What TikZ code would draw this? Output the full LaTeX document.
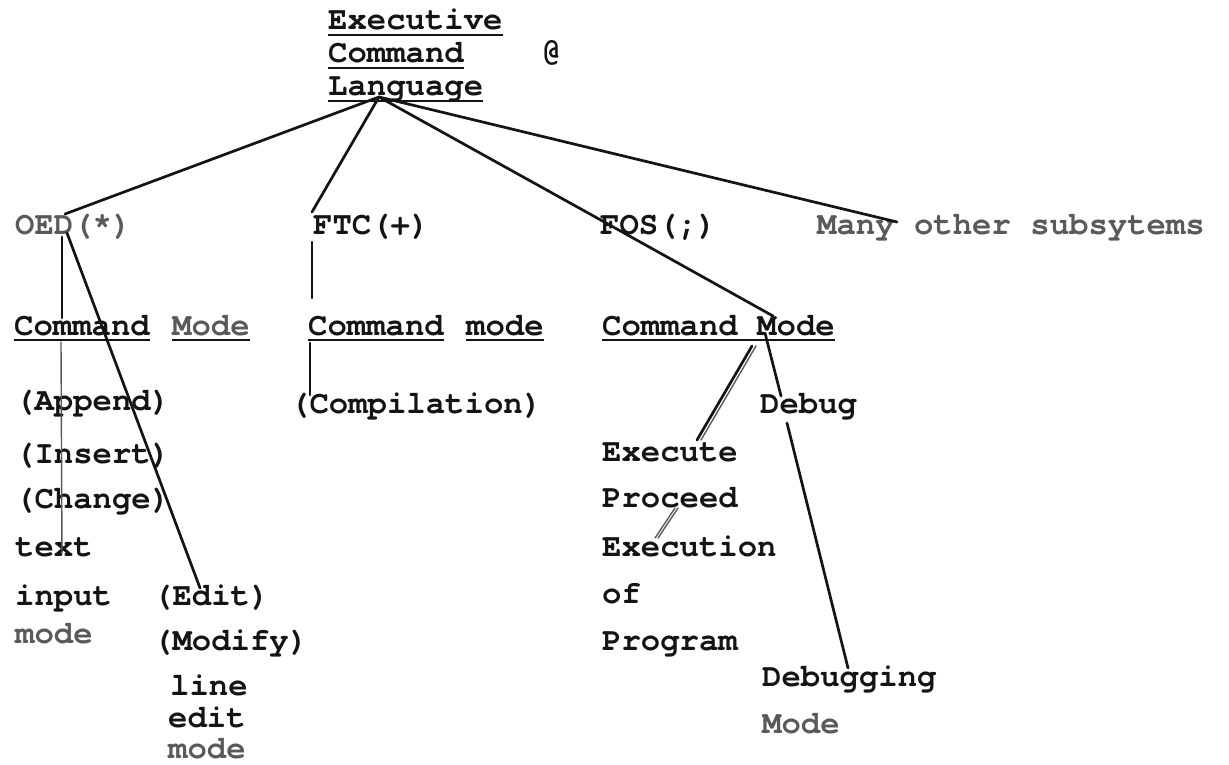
\documentclass[tikz,border=0pt]{standalone}
\usepackage{fontspec}
\newfontfamily\tw{TeX Gyre Cursor}
\definecolor{ink}{HTML}{141414}
\definecolor{fade}{HTML}{5A5A5A}
\begin{document}
\begin{tikzpicture}[x=1pt,y=-1pt,
  lbl/.style={anchor=base west, inner sep=0pt,
    font=\tw\bfseries\fontsize{32.3}{34}\selectfont, text=ink},
  faint/.style={lbl, text=fade},
  link/.style={draw=ink, line width=2.7pt, line cap=round},
  weak link/.style={draw=ink!70, line width=1.4pt, line cap=round},
  uline/.style={draw=ink, line width=2.8pt}]
\newcommand\underlinenode[1]{\draw[uline] ([yshift=-5pt]#1.base west) -- ([yshift=-5pt]#1.base east);}

\fill[white] (0,0) rectangle (1229,765);
\useasboundingbox (0,0) rectangle (1229,765);

% root
\node[lbl] (exe)  at (328,30) {Executive};
\node[lbl] (cmd)  at (328,63) {Command};
\node[lbl] (lang) at (328,96) {Language};
\node[lbl] (at)   at (542,61) {@};
\underlinenode{exe}
\underlinenode{cmd}
\underlinenode{lang}

% subsystems
\node[faint] (oed)  at (15,234)  {OED(*)};
\node[lbl]   (ftc)  at (313,234) {FTC(+)};
\node[lbl]   (fos)  at (600,234) {FOS(;)};
\node[faint] (many) at (817,234) {Many other subsytems};

% command modes
\node[lbl]   (cmA)  at (14,335)  {Command};
\node[faint] (cmAm) at (172,335) {Mode};
\node[lbl]   (cmB)  at (308,335) {Command};
\node[lbl]   (cmBm) at (466,335) {mode};
\node[lbl]   (cmC)  at (602,335) {Command Mode};
\underlinenode{cmA}
\underlinenode{cmAm}
\underlinenode{cmB}
\underlinenode{cmBm}
\underlinenode{cmC}

% OED branch
\node[lbl]   (app)  at (15,410)  {(Append)};
\node[lbl]   (ins)  at (15,463)  {(Insert)};
\node[lbl]   (chg)  at (15,508)  {(Change)};
\node[lbl]   (txt)  at (15,556)  {text};
\node[lbl]   (inp)  at (15,605)  {input};
\node[faint] (tmode) at (15,643) {mode};
\node[lbl]   (edt)  at (153,605) {(Edit)};
\node[lbl]   (mdf)  at (153,650) {(Modify)};
\node[lbl]   (lin)  at (170,695) {line};
\node[lbl]   (led)  at (168,727) {edit};
\node[faint] (lmode) at (168,758) {mode};

% FTC branch
\node[lbl]   (cmp)  at (290,413) {(Compilation)};

% FOS branch
\node[lbl]   (dbg)  at (760,413) {Debug};
\node[lbl]   (exc)  at (602,461) {Execute};
\node[lbl]   (prc)  at (602,507) {Proceed};
\node[lbl]   (exn)  at (602,556) {Execution};
\node[lbl]   (of)   at (602,603) {of};
\node[lbl]   (prg)  at (602,650) {Program};
\node[lbl]   (dbgg) at (762,686) {Debugging};
\node[faint] (dmode) at (762,733) {Mode};

% connector ends
\coordinate (hub)      at (379,97);
\coordinate (oed-top)  at (65,214);
\coordinate (oed-foot) at (62,237);
\coordinate (oed-knee) at (67,233);
\coordinate (ftc-top)  at (312,212);
\coordinate (ftc-foot) at (312,242);
\coordinate (fos-top)  at (600,219.6);
\coordinate (many-end) at (897,222);
\coordinate (cmA-top)  at (62,318);
\coordinate (cmA-foot) at (61,342);
\coordinate (txt-mid)  at (62,553);
\coordinate (edt-top)  at (200,588);
\coordinate (cmB-top)  at (312,298);
\coordinate (cmB-foot) at (310,343);
\coordinate (cmp-top)  at (310,395);
\coordinate (cmC-top)  at (773,316);
\coordinate (cmC-foot) at (752,346);
\coordinate (cmC-m)    at (765,333);
\coordinate (exc-top)  at (697,440);
\coordinate (dbg-top)  at (781,396);
\coordinate (dbg-foot) at (787,423);
\coordinate (dbgg-top) at (848,668);
\coordinate (prc-foot) at (675,508);
\coordinate (exn-top)  at (655,538);

% top level links
\draw[link] (hub) -- (oed-top);
\draw[link] (hub) -- (ftc-top);
\draw[link] (hub) -- (fos-top) -- (cmC-top);
\draw[link] (hub) -- (many-end);

% second level links
\draw[link] (oed-foot) -- (cmA-top);
\draw[link] (oed-knee) -- (edt-top);
\draw[weak link] (cmA-foot) -- (txt-mid);
\draw[link] (ftc-foot) -- (cmB-top);
\draw[link] (cmB-foot) -- (cmp-top);

% FOS command mode links
\draw[link] (cmC-foot) -- (exc-top);
\draw[weak link] ([xshift=4pt]cmC-foot) -- ([xshift=4pt]exc-top);
\draw[link] (cmC-m) -- (dbg-top);
\draw[link] (dbg-foot) -- (dbgg-top);
\draw[weak link] (prc-foot) -- (exn-top);
\draw[weak link] ([xshift=3pt]prc-foot) -- ([xshift=3pt]exn-top);
\end{tikzpicture}
\end{document}
